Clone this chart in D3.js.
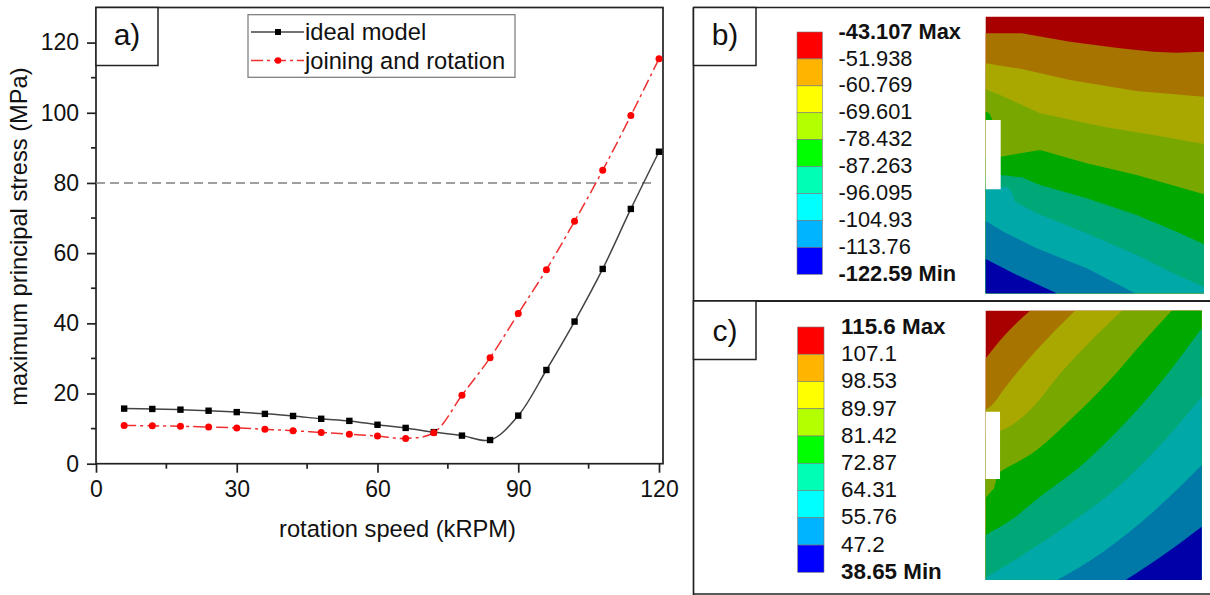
<!DOCTYPE html>
<html>
<head>
<meta charset="utf-8">
<script src="https://cdn.jsdelivr.net/npm/d3@7"></script>
<style>
  html, body { margin: 0; padding: 0; background: #fff; }
  svg { display: block; }
  text { font-family: "Liberation Sans", Arial, sans-serif; fill: #111; }
</style>
</head>
<body>
<div id="chart"></div>
<script>
// line chart data
const speed = [6, 12, 18, 24, 30, 36, 42, 48, 54, 60, 66, 72, 78, 84, 90, 96, 102, 108, 114, 120]
const idealModel = [15.7, 15.6, 15.4, 15.1, 14.7, 14.2, 13.6, 12.8, 12.2, 11.1, 10.2, 9.0, 8.0, 6.75, 13.7, 26.7, 40.5, 55.5, 72.6, 88.9]
const joiningRotation = [10.9, 10.8, 10.65, 10.45, 10.2, 9.8, 9.4, 8.9, 8.4, 7.9, 7.2, 8.85, 19.5, 30.2, 42.8, 55.3, 69.1, 83.6, 99.2, 115.4]
const xMajor = [0, 30, 60, 90, 120]
const xMinor = [15, 45, 75, 105]
const yMajor = [0, 20, 40, 60, 80, 100, 120]
const yMinor = [10, 30, 50, 70, 90, 110]
const limitStress = 80

// contour legends
const legendColors = ['#ff0000', '#ffb400', '#ffff00', '#b4ff00', '#00ff00', '#00ffb4', '#00ffff', '#00b4ff', '#0000ff']
const contourColors = ['#a80000', '#a87400', '#a8a800', '#78a800', '#00a800', '#00a878', '#00a8a8', '#0078a8', '#0000a8']
const labelsB = ['-43.107 Max', '-51.938', '-60.769', '-69.601', '-78.432', '-87.263', '-96.095', '-104.93', '-113.76', '-122.59 Min']
const labelsC = ['115.6 Max', '107.1', '98.53', '89.97', '81.42', '72.87', '64.31', '55.76', '47.2', '38.65 Min']

// contour level lines in mesh units, the region below each line gets the next colour
const levelsB = [
  [[47, 50], [702, 50]],
  [[47, 100], [155, 100], [300, 125], [450, 145], [550, 155], [620, 158], [702, 155]],
  [[47, 190], [155, 207], [300, 240], [500, 273], [702, 290]],
  [[47, 268], [90, 285], [210, 340], [400, 380], [550, 405], [702, 432]],
  [[47, 470], [92, 470], [210, 450], [350, 490], [500, 525], [702, 583]],
  [[47, 525], [92, 525], [155, 532], [210, 555], [350, 595], [500, 645], [620, 695], [702, 733]],
  [[47, 560], [112, 562], [125, 575], [135, 605], [200, 640], [350, 700], [500, 765], [620, 825], [702, 860]],
  [[47, 663], [100, 695], [200, 745], [350, 805], [495, 880]],
  [[47, 777], [130, 820], [260, 880]]
]
const patchB = {color: 4, points: [[47, 335], [58, 340], [68, 362], [47, 362]]}
const notchB = [[47, 360], [92, 360], [92, 568], [47, 568]]

const levelsC = [
  [[47, 47], [695, 47]],
  [[47, 190], [100, 125], [180, 47]],
  [[47, 345], [75, 320], [100, 285], [200, 165], [315, 47]],
  [[47, 425], [90, 408], [140, 380], [180, 345], [280, 225], [370, 130], [455, 47]],
  [[47, 555], [90, 530], [200, 465], [300, 375], [420, 255], [520, 140], [605, 47]],
  [[47, 720], [130, 670], [210, 605], [330, 515], [450, 400], [570, 265], [695, 100]],
  [[47, 848], [150, 785], [300, 685], [450, 570], [580, 440], [695, 305]],
  [[262, 855], [400, 770], [550, 650], [695, 510]],
  [[467, 855], [580, 780], [695, 695]]
]
const patchC = {color: 3, points: [[47, 608], [72, 580], [80, 550], [47, 550]]}
const notchC = [[47, 350], [90, 350], [90, 552], [47, 552]]

const width = 1210
const height = 595
const frame = {left: 96, right: 663, top: 7.5, bottom: 463.7}

const svg = d3.select('#chart').append('svg')
  .attr('width', width)
  .attr('height', height)

const xScale = d3.scaleLinear().domain([0, 120]).range([96, 659])
const yScale = d3.scaleLinear().domain([0, 130]).range([frame.bottom, frame.top])

// panel a frame
svg.append('rect')
  .attr('x', frame.left).attr('y', frame.top)
  .attr('width', frame.right - frame.left).attr('height', frame.bottom - frame.top)
  .attr('fill', 'none').attr('stroke', '#222').attr('stroke-width', 1.7)

const addAxis = (axis, major, transform) => {
  const g = svg.append('g').attr('transform', transform)
  g.call(axis.tickValues(major).tickSize(9).tickPadding(8).tickFormat(d3.format('d')))
  g.select('.domain').remove()
  g.selectAll('.tick line').attr('stroke', '#222').attr('stroke-width', 1.7)
  g.selectAll('.tick text').style('font-size', '23px').style('font-family', '"Liberation Sans"')
  return g
}

addAxis(d3.axisBottom(xScale), xMajor, `translate(0,${frame.bottom})`)
addAxis(d3.axisLeft(yScale), yMajor, `translate(${frame.left},0)`)

svg.append('g').selectAll('line').data(xMinor).join('line')
  .attr('x1', d => xScale(d)).attr('x2', d => xScale(d))
  .attr('y1', frame.bottom).attr('y2', frame.bottom + 5)
  .attr('stroke', '#222').attr('stroke-width', 1.7)

svg.append('g').selectAll('line').data(yMinor).join('line')
  .attr('x1', frame.left - 5).attr('x2', frame.left)
  .attr('y1', d => yScale(d)).attr('y2', d => yScale(d))
  .attr('stroke', '#222').attr('stroke-width', 1.7)

svg.append('text')
  .attr('x', 397.5).attr('y', 537)
  .attr('text-anchor', 'middle')
  .style('font-size', '23.7px')
  .text('rotation speed (kRPM)')

svg.append('text')
  .attr('transform', 'translate(27,236.5) rotate(-90)')
  .attr('text-anchor', 'middle')
  .style('font-size', '23.7px')
  .text('maximum principal stress (MPa)')

// 80 MPa limit
svg.append('line')
  .attr('x1', frame.left).attr('x2', 655)
  .attr('y1', yScale(limitStress)).attr('y2', yScale(limitStress))
  .attr('stroke', '#808080').attr('stroke-width', 1.5)
  .attr('stroke-dasharray', '9 5')

const curve = d3.line()
  .x((d, i) => xScale(speed[i]))
  .y(d => yScale(d))
  .curve(d3.curveCatmullRom.alpha(0.5))

svg.append('path').attr('d', curve(idealModel))
  .attr('fill', 'none').attr('stroke', '#444').attr('stroke-width', 1.5)

svg.append('path').attr('d', curve(joiningRotation))
  .attr('fill', 'none').attr('stroke', '#f03030').attr('stroke-width', 1.5)
  .attr('stroke-dasharray', '12 4 3 4')

svg.append('g').selectAll('rect').data(idealModel).join('rect')
  .attr('x', (d, i) => xScale(speed[i]) - 3.2)
  .attr('y', d => yScale(d) - 3.2)
  .attr('width', 6.4).attr('height', 6.4)
  .attr('fill', '#000')

svg.append('g').selectAll('circle').data(joiningRotation).join('circle')
  .attr('cx', (d, i) => xScale(speed[i]))
  .attr('cy', d => yScale(d))
  .attr('r', 3.5)
  .attr('fill', '#ff0000')

// legend
svg.append('rect')
  .attr('x', 248).attr('y', 14.7).attr('width', 267).attr('height', 62.6)
  .attr('fill', '#fff').attr('stroke', '#777').attr('stroke-width', 1.2)

const legendRows = [
  {name: 'ideal model', y: 32, stroke: '#444', dash: null},
  {name: 'joining and rotation', y: 60.5, stroke: '#f03030', dash: '12 4 3 4'}
]

legendRows.forEach((row, i) => {
  svg.append('line')
    .attr('x1', 251).attr('x2', 304).attr('y1', row.y).attr('y2', row.y)
    .attr('stroke', row.stroke).attr('stroke-width', 1.4)
    .attr('stroke-dasharray', row.dash)
  if (i == 0) {
    svg.append('rect').attr('x', 275).attr('y', row.y - 3).attr('width', 6).attr('height', 6).attr('fill', '#000')
  } else {
    svg.append('circle').attr('cx', 278).attr('cy', row.y).attr('r', 3.3).attr('fill', '#ff0000')
  }
  svg.append('text')
    .attr('x', 305).attr('y', row.y + 8)
    .style('font-size', '23.7px')
    .text(row.name)
})

// panel borders of the right side
const border = (x1, y1, x2, y2, w) => svg.append('line')
  .attr('x1', x1).attr('y1', y1).attr('x2', x2).attr('y2', y2)
  .attr('stroke', '#222').attr('stroke-width', w)

border(693.5, 7.5, 1210, 7.5, 1.7)
border(693.5, 7.5, 693.5, 595, 1.7)
border(693.5, 301, 1210, 301, 2)
border(693.5, 594, 1210, 594, 1.5)

const labelBox = (x, y, w, h, label, tx, ty) => {
  svg.append('rect')
    .attr('x', x).attr('y', y).attr('width', w).attr('height', h)
    .attr('fill', '#fff').attr('stroke', '#222').attr('stroke-width', 1.5)
  svg.append('text')
    .attr('x', tx).attr('y', ty)
    .attr('text-anchor', 'middle')
    .style('font-size', '30px')
    .text(label)
}

labelBox(frame.left, frame.top, 62, 58, 'a)', 127, 45)
labelBox(693.5, 7.5, 62.5, 58, 'b)', 725, 45)
labelBox(693.5, 301, 62.5, 58.5, 'c)', 725, 341)

const colorLegend = (labels, x0, x1, y0, y1, textX, textY0, textY1, size) => {
  const cell = d3.scaleBand().domain(d3.range(legendColors.length)).range([y0, y1])
  svg.append('g').selectAll('rect').data(legendColors).join('rect')
    .attr('x', x0).attr('width', x1 - x0)
    .attr('y', (d, i) => cell(i)).attr('height', cell.bandwidth())
    .attr('fill', d => d)
    .attr('stroke', '#777').attr('stroke-width', 0.6)
  const ly = d3.scalePoint().domain(d3.range(labels.length)).range([textY0, textY1])
  svg.append('g').selectAll('text').data(labels).join('text')
    .attr('x', textX)
    .attr('y', (d, i) => ly(i))
    .attr('dy', '0.35em')
    .style('font-size', size + 'px')
    .style('font-weight', (d, i) => (i == 0 || i == labels.length - 1) ? 'bold' : 'normal')
    .text(d => d)
}

colorLegend(labelsB, 797, 822.3, 32, 274.3, 838.5, 31, 273, 21.8)
colorLegend(labelsC, 797.7, 824, 327, 572.3, 841, 326, 571, 22.4)

const contour = (levels, levelCurve, patch, notch, xDomain, xRange, yDomain, yRange) => {
  const mx = d3.scaleLinear().domain(xDomain).range(xRange)
  const my = d3.scaleLinear().domain(yDomain).range(yRange)
  const poly = d3.line().x(d => mx(d[0])).y(d => my(d[1]))
  const level = d3.line().x(d => mx(d[0])).y(d => my(d[1])).curve(levelCurve)
  const [left, right] = xDomain
  const [top, bottom] = yDomain

  // level line, then round the panel corners that lie below it
  const bandPath = pts => {
    const first = pts[0]
    const last = pts[pts.length - 1]
    const corners = []
    if (last[1] == top) corners.push([right, top])
    if (last[1] != bottom) corners.push([right, bottom])
    if (first[0] == left && first[1] != bottom) corners.push([left, bottom])
    return level(pts) + corners.map(c => `L${mx(c[0])},${my(c[1])}`).join('') + 'Z'
  }

  const g = svg.append('g')
  g.selectAll('path.band').data(levels).join('path')
    .attr('class', 'band')
    .attr('d', bandPath)
    .attr('fill', (d, i) => contourColors[i])
  g.append('path').attr('d', poly(patch.points) + 'Z').attr('fill', contourColors[patch.color])
  g.append('path').attr('d', poly(notch) + 'Z').attr('fill', '#fff')
}

contour(levelsB, d3.curveLinear, patchB, notchB, [47, 702], [985.7, 1204], [50, 880], [16.7, 293.3])
contour(levelsC, d3.curveMonotoneX, patchC, notchC, [47, 695], [985.7, 1201.7], [47, 855], [310.7, 580])
</script>
</body>
</html>
